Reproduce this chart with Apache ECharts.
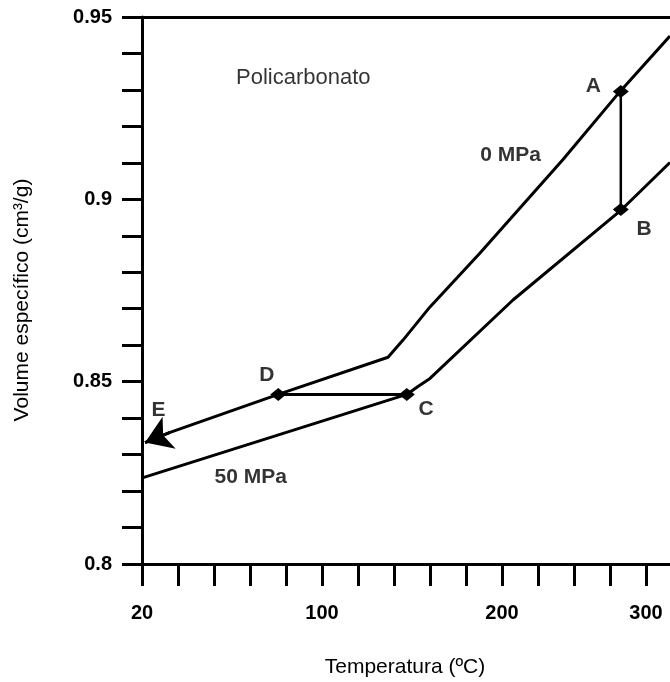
<!DOCTYPE html>
<html><head><meta charset="utf-8">
<script src="https://cdn.jsdelivr.net/npm/echarts@6/dist/echarts.min.js"></script>
<style>html,body{margin:0;padding:0;background:#fff}#c{width:670px;height:682px}</style>
</head><body><div id="c"></div>
<script>
// x axis is in "axis units": one tick step = 20 units; tick labels as printed on the original figure
const xTickLabels = {0: '20', 100: '100', 200: '200', 280: '300'};
const yTickLabels = [0.8, 0.85, 0.9, 0.95];

// 0 MPa curve
const upperX = [1.7, 15.6, 75.7, 136.7, 145.0, 160.0, 187.8, 233.9, 265.6, 293.3];
const upperY = [0.8333, 0.8361, 0.8465, 0.8567, 0.8614, 0.8705, 0.8853, 0.9109, 0.9296, 0.9448];
// 50 MPa curve
const lowerX = [0.6, 147.1, 153.3, 160.0, 206.1, 266.5, 293.3];
const lowerY = [0.8237, 0.8465, 0.8487, 0.8509, 0.8724, 0.8972, 0.9101];
// process segments
const segDC_X = [75.7, 147.1];
const segDC_Y = [0.8465, 0.8465];
const segAB_X = [266, 266];
const segAB_Y = [0.9296, 0.8972];
// arrow D -> E (last piece of the 0 MPa curve)
const arrowX = [15.6, 1.7];
const arrowY = [0.8361, 0.8333];
// annotations
const noteText = ['A', 'B', 'C', 'D', 'E', '0 MPa', '50 MPa', 'Policarbonato'];
const noteX = [250.7, 278.9, 157.8, 69.3, 9.1, 204.8, 60.4, 89.6];
const noteY = [0.9309, 0.8917, 0.8424, 0.8517, 0.8423, 0.9120, 0.8239, 0.9334];

const FONT = '"Liberation Sans", Arial, sans-serif';
const pair = (xs, ys) => xs.map((x, i) => [x, ys[i]]);

const chart = echarts.init(document.getElementById('c'), null, {renderer: 'canvas'});
chart.setOption({
  animation: false,
  backgroundColor: '#fff',
  grid: {left: 142, top: 17, width: 540, height: 547, outerBoundsMode: 'none', containLabel: false},
  xAxis: [{
    type: 'value', min: 0, max: 300, interval: 20, position: 'bottom',
    axisLine: {show: true, onZero: false, lineStyle: {color: '#000', width: 3}},
    axisTick: {show: true, inside: false, length: 22, lineStyle: {color: '#000', width: 3}},
    splitLine: {show: false},
    axisLabel: {
      margin: 39, color: '#000', fontFamily: FONT, fontWeight: 'bold', fontSize: 20,
      showMinLabel: true, showMaxLabel: true, hideOverlap: false,
      formatter: v => xTickLabels[Math.round(v)] || ''
    }
  }, {
    type: 'value', min: 0, max: 300, position: 'top',
    axisLine: {show: true, onZero: false, lineStyle: {color: '#000', width: 3}},
    axisTick: {show: false}, axisLabel: {show: false}, splitLine: {show: false}
  }],
  yAxis: {
    type: 'value', min: 0.8, max: 0.95, interval: 0.01,
    axisLine: {show: true, onZero: false, lineStyle: {color: '#000', width: 3}},
    axisTick: {show: true, inside: false, length: 20, lineStyle: {color: '#000', width: 3}},
    splitLine: {show: false},
    axisLabel: {
      margin: 30, color: '#000', fontFamily: FONT, fontWeight: 'bold', fontSize: 20,
      showMinLabel: true, showMaxLabel: true, hideOverlap: false,
      formatter: v => {
        const hit = yTickLabels.find(t => Math.abs(t - v) < 1e-6);
        return hit === undefined ? '' : String(hit);
      }
    }
  },
  graphic: [
    {type: 'text', x: 22, y: 300, rotation: Math.PI / 2,
     style: {text: 'Volume específico (cm³/g)', font: '21px ' + FONT, fill: '#000', align: 'center', verticalAlign: 'middle'}},
    {type: 'text', x: 405, y: 667,
     style: {text: 'Temperatura (ºC)', font: '21px ' + FONT, fill: '#000', align: 'center', verticalAlign: 'middle'}}
  ],
  series: [
    {type: 'line', data: pair(upperX, upperY), symbol: 'none', lineStyle: {color: '#000', width: 3}, silent: true},
    {type: 'line', data: pair(lowerX, lowerY), symbol: 'none', lineStyle: {color: '#000', width: 3}, silent: true},
    {type: 'line', data: pair(segDC_X, segDC_Y), symbol: 'diamond', symbolSize: [16, 13], showAllSymbol: true,
     itemStyle: {color: '#000'}, lineStyle: {color: '#000', width: 3}, silent: true},
    {type: 'line', data: pair(segAB_X, segAB_Y), symbol: 'diamond', symbolSize: [16, 13], showAllSymbol: true,
     itemStyle: {color: '#000'}, lineStyle: {color: '#000', width: 2.5}, silent: true},
    {type: 'lines', coordinateSystem: 'cartesian2d', silent: true,
     symbol: ['none', 'arrow'], symbolSize: 26,
     lineStyle: {color: '#000', width: 3, opacity: 1},
     data: [{coords: pair(arrowX, arrowY)}]},
    {type: 'scatter', symbolSize: 1, itemStyle: {color: 'rgba(0,0,0,0)'}, silent: true,
     data: noteText.map((t, i) => ({
       name: t, value: [noteX[i], noteY[i]],
       label: t === 'Policarbonato'
         ? {fontWeight: 'normal', fontSize: 22, color: '#000'}
         : {fontWeight: 'bold', fontSize: 21, color: '#000'}
     })),
     label: {show: true, position: 'inside', formatter: '{b}', color: '#000', fontFamily: FONT}}
  ]
});
</script>
</body></html>
